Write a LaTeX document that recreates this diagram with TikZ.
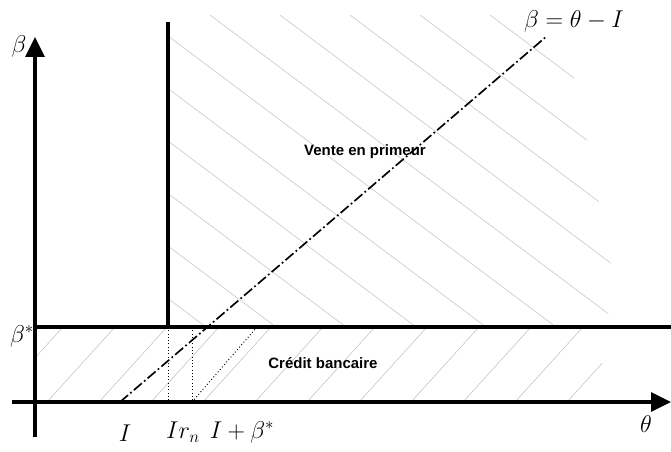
\documentclass[tikz,border=0pt]{standalone}
\usepackage{fontspec}
\newfontfamily\regionfont{Liberation Sans}
\usetikzlibrary{arrows.meta}

\begin{document}
\begin{tikzpicture}[x=0.03cm, y=-0.03cm,
  axis/.style={line width=3pt, -{Triangle[length=17pt,width=16pt]}},
  frontier/.style={line width=2.6pt},
  hatch/.style={gray!55, line width=0.4pt},
  guide/.style={dotted, line width=0.8pt},
  region/.style={font=\regionfont\bfseries\fontsize{12.8}{14}\selectfont},
  mathlbl/.style={font=\huge},
]
\useasboundingbox (0,0) rectangle (671,452);

% === Hatching ===
\begin{scope}
  \clip (168,10) -- (540,10) -- (575,80) -- (615,285) -- (605,327) -- (168,327) -- cycle;
  \foreach \xa in {-280,-210,...,490}
    \draw[hatch] (\xa,15) -- ++(420,315);
\end{scope}
\begin{scope}
  \clip (35,327) rectangle (602,402);
  \foreach \xb in {-5,47,...,600}
    \draw[hatch] (\xb,402) -- ++(68,-75);
\end{scope}

% === Axes and frontiers ===
\coordinate (yb) at (35,437);
\coordinate (yt) at (35,37);
\coordinate (xl) at (12,402);
\coordinate (xr) at (671,402);
\coordinate (sl) at (35,327);
\coordinate (sr) at (671,327);
\coordinate (vb) at (168,327);
\coordinate (vt) at (168,22);
\draw[axis] (yb) -- (yt);
\draw[axis] (xl) -- (xr);
\draw[frontier] (sl) -- (sr);
\draw[frontier] (vb) -- (vt);

% === Line beta = theta - I ===
\coordinate (d0) at (120,402);
\coordinate (d1) at (547,36);
\draw[line width=1.4pt, dash pattern=on 9pt off 2.5pt on 1.5pt off 2.5pt] (d0) -- (d1);

% === Dotted guides ===
\coordinate (g0) at (168,402);
\coordinate (g1) at (192,327);
\coordinate (g2) at (192,402);
\coordinate (g3) at (257,327);
\draw[guide] (vb) -- (g0);
\draw[guide] (g1) -- (g2);
\draw[guide] (g2) -- (g3);

% === Labels ===
\node[mathlbl] (beta) at (19,46) {$\beta$};
\node[mathlbl] (bstar) at (22,336) {$\beta^*$};
\node[mathlbl] (theta) at (646,424) {$\theta$};
\node[mathlbl] (eq) at (574,21) {$\beta = \theta - I$};
\node[mathlbl] (inv) at (125,433) {$I$};
\node[mathlbl] (irn) at (183,432) {$Ir_n$};
\node[mathlbl] (ib) at (242,432) {$I + \beta^*$};
\node[region] (vente) at (365,152) {Vente en primeur};
\node[region] (credit) at (323,363) {Crédit bancaire};

\end{tikzpicture}
\end{document}
